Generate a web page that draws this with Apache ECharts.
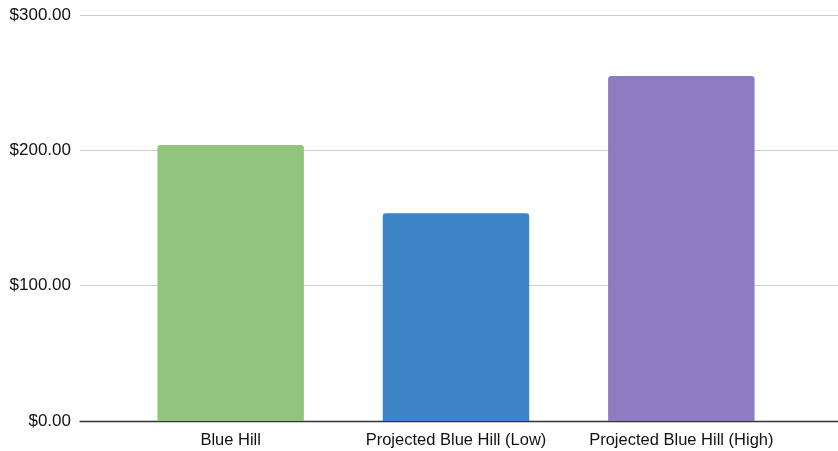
<!DOCTYPE html>
<html>
<head>
<meta charset="utf-8">
<script src="https://cdn.jsdelivr.net/npm/echarts@6/dist/echarts.min.js"></script>
<style>
  html, body { margin: 0; padding: 0; background: #fff; }
  #chart { width: 838px; height: 451px; }
</style>
</head>
<body>
<div id="chart"></div>
<script>
// Price per scenario
const categories = ['Blue Hill', 'Projected Blue Hill (Low)', 'Projected Blue Hill (High)'];
const values = [204, 153.5, 255];
const barColors = ['#93c47d', '#3d85c6', '#8e7cc3'];
const yTicks = [0, 100, 200, 300];

const FONT = '"Liberation Sans", Arial, Helvetica, sans-serif';
const yMin = yTicks[0];
const yMax = yTicks[yTicks.length - 1];
const yStep = yTicks[1] - yTicks[0];

const chart = echarts.init(document.getElementById('chart'), null, { renderer: 'canvas' });

chart.setOption({
  animation: false,
  backgroundColor: '#ffffff',
  grid: [
    // gridlines, y labels and baseline span the full width
    { left: 80, right: 0, top: 15, bottom: 30, containLabel: false },
    // bars sit in a narrower band
    { left: 118, right: 44, top: 15, bottom: 30, containLabel: false }
  ],
  xAxis: [
    {
      gridIndex: 0, type: 'category', data: [''],
      axisLine: { show: true, lineStyle: { color: '#333333', width: 1.3 } },
      axisTick: { show: false }, axisLabel: { show: false }, splitLine: { show: false }
    },
    {
      gridIndex: 1, type: 'category', data: categories,
      axisLine: { show: false }, axisTick: { show: false },
      axisLabel: {
        color: '#111111', fontFamily: FONT, fontSize: 16.5, margin: 11,
        interval: 0, hideOverlap: false
      }
    }
  ],
  yAxis: [
    {
      gridIndex: 0, type: 'value', min: yMin, max: yMax, interval: yStep,
      axisLine: { show: false }, axisTick: { show: false },
      axisLabel: {
        color: '#111111', fontFamily: FONT, fontSize: 17, margin: 9,
        formatter: v => '$' + v.toFixed(2)
      },
      splitLine: { show: true, lineStyle: { color: '#cccccc', width: 1 } }
    },
    {
      gridIndex: 1, type: 'value', min: yMin, max: yMax, interval: yStep,
      show: false, splitLine: { show: false }
    }
  ],
  series: [
    {
      type: 'bar',
      xAxisIndex: 1, yAxisIndex: 1,
      data: values.map((v, i) => ({ value: v, itemStyle: { color: barColors[i] } })),
      barCategoryGap: '35%',
      itemStyle: { borderRadius: [3, 3, 0, 0] },
      z: 1
    }
  ]
});
</script>
</body>
</html>
